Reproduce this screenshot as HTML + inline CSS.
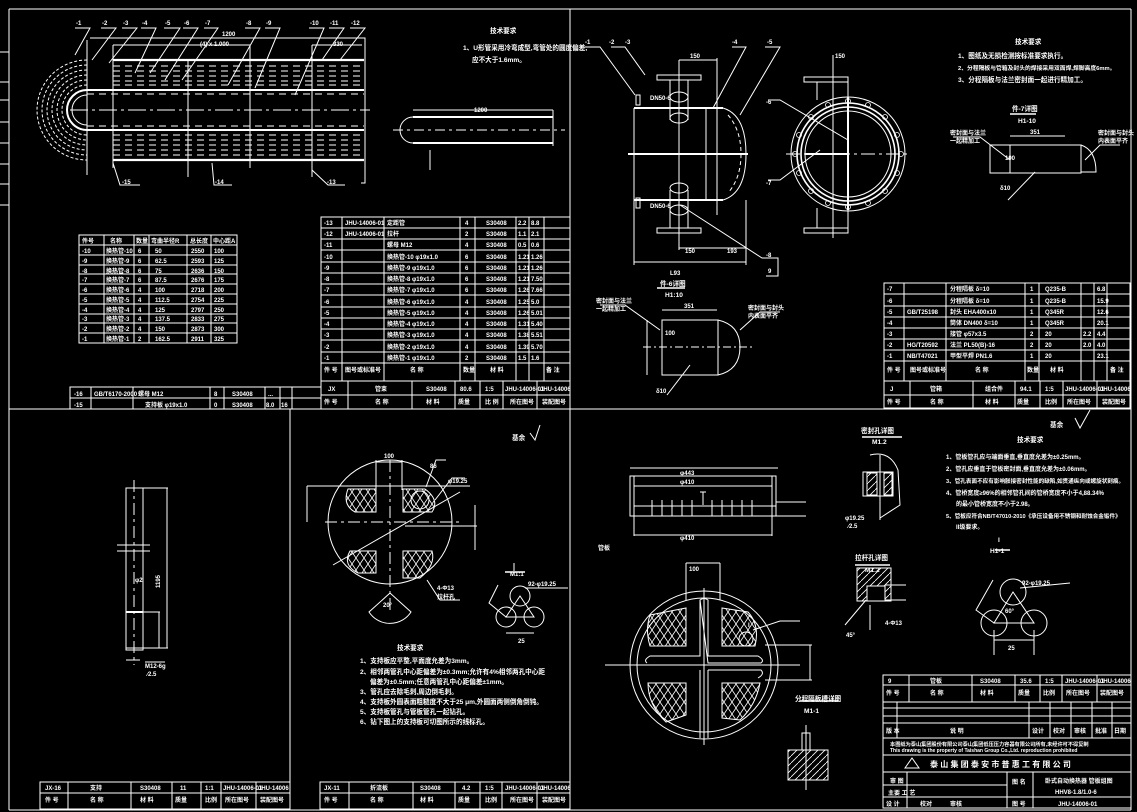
<!DOCTYPE html>
<html><head><meta charset="utf-8"><style>
html,body{margin:0;padding:0;background:#000;}
svg{display:block}
text{fill:#fff;font-family:"Liberation Sans","Noto Sans CJK SC",sans-serif;font-size:6px;font-weight:bold}
.t8{font-size:8px}
.t7{font-size:6.6px}
</style></head><body>
<svg width="1137" height="812" viewBox="0 0 1137 812" xmlns="http://www.w3.org/2000/svg">
<defs>
<pattern id="xh" width="8" height="12" patternUnits="userSpaceOnUse">
<path d="M0 0 L8 12 M8 0 L0 12" stroke="#fff" stroke-width="0.8"/>
</pattern>
<pattern id="dh" width="7" height="7" patternUnits="userSpaceOnUse">
<path d="M0 7 L7 0" stroke="#fff" stroke-width="0.8"/>
</pattern>
</defs>
<rect width="1137" height="812" fill="#000"/>
<g stroke="#fff" fill="none" stroke-width="1">
<line x1="9" y1="9" x2="1131" y2="9"/>
<line x1="9" y1="9" x2="9" y2="810"/>
<line x1="9" y1="810" x2="1131" y2="810"/>
<line x1="1131" y1="9" x2="1131" y2="810"/>
<line x1="570" y1="9" x2="570" y2="810"/>
<line x1="9" y1="409" x2="1131" y2="409"/>
<line x1="290" y1="409" x2="290" y2="810"/>
<line x1="0" y1="52" x2="9" y2="52"/><line x1="0" y1="82" x2="9" y2="82"/><line x1="0" y1="100" x2="9" y2="100"/><line x1="0" y1="122" x2="9" y2="122"/><line x1="0" y1="143" x2="9" y2="143"/><line x1="0" y1="164" x2="9" y2="164"/><line x1="0" y1="184" x2="9" y2="184"/><line x1="0" y1="205" x2="9" y2="205"/>

<g>
<path d="M87 60 A50 50 0 0 0 87 160" stroke-dasharray="3 2"/>
<path d="M87 65 A45 45 0 0 0 87 155" stroke-dasharray="3 2"/>
<path d="M87 70 A40 40 0 0 0 87 150" stroke-dasharray="3 2"/>
<path d="M87 75 A35 35 0 0 0 87 145" stroke-dasharray="3 2"/>
<path d="M87 80 A30 30 0 0 0 87 140" stroke-dasharray="3 2"/>
<path d="M87 85 A25 25 0 0 0 87 135" stroke-dasharray="3 2"/>
<path d="M87 90 A20 20 0 0 0 87 130" stroke-width="2"/>
<path d="M87 95 A15 15 0 0 0 87 125"/>
<line x1="113" y1="60" x2="364" y2="60" stroke-width="2.2"/>
<line x1="87" y1="90" x2="364" y2="90" stroke-width="2"/>
<line x1="87" y1="130" x2="364" y2="130" stroke-width="2"/>
<line x1="113" y1="160" x2="364" y2="160" stroke-width="2.2"/>
<g stroke-dasharray="7 5">
<line x1="113" y1="66" x2="364" y2="66"/><line x1="113" y1="71" x2="364" y2="71"/><line x1="113" y1="76" x2="364" y2="76"/><line x1="113" y1="81" x2="364" y2="81"/><line x1="113" y1="85" x2="364" y2="85"/>
<line x1="87" y1="94" x2="364" y2="94"/><line x1="87" y1="126" x2="364" y2="126"/>
<line x1="113" y1="135" x2="364" y2="135"/><line x1="113" y1="140" x2="364" y2="140"/><line x1="113" y1="145" x2="364" y2="145"/><line x1="113" y1="150" x2="364" y2="150"/><line x1="113" y1="155" x2="364" y2="155"/>
</g>
<line x1="70" y1="110" x2="370" y2="110" stroke-dasharray="18 4 3 4"/>
<line x1="87" y1="40" x2="87" y2="175"/>
<line x1="113" y1="45" x2="113" y2="168"/>
<line x1="188" y1="60" x2="188" y2="177"/>
<line x1="250" y1="45" x2="250" y2="168"/>
<line x1="312" y1="45" x2="312" y2="177"/>
<path d="M362 38 L365 38 L365 183 L361 183"/>
<line x1="90" y1="38" x2="365" y2="38"/>
<line x1="113" y1="45" x2="250" y2="45"/>
<line x1="312" y1="45" x2="362" y2="45"/>
<path d="M75 28 L90 28 L75 55"/><path d="M101 28 L116 28 L92 60"/><path d="M122 28 L137 28 L109 63"/><path d="M141 28 L156 28 L135 73"/><path d="M164 28 L180 28 L150 73"/><path d="M183 28 L198 28 L165 80"/><path d="M204 28 L218 28 L182 80"/><path d="M245 28 L260 28 L228 85"/><path d="M265 28 L280 28 L255 88"/><path d="M309 28 L324 28 L295 95"/><path d="M329 28 L344 28 L322 60"/><path d="M350 28 L365 28 L340 60"/>
<path d="M113 163 L120 185 L140 185"/><path d="M212 163 L214 185 L232 185"/><path d="M312 170 L328 185 L345 185"/>
<line x1="413" y1="117" x2="553" y2="117" stroke-width="2"/>
<line x1="413" y1="143" x2="553" y2="143" stroke-width="2"/>
<path d="M413 117 A13 13 0 0 0 413 143"/>
<line x1="393" y1="130" x2="565" y2="130" stroke-dasharray="10 4 3 4"/>
<line x1="413" y1="110" x2="553" y2="110"/>
<line x1="553" y1="110" x2="553" y2="146"/>
<line x1="430" y1="150" x2="430" y2="170"/>
</g>

<g>
<rect x="79" y="235" width="158" height="108"/>
<line x1="104" y1="235" x2="104" y2="343"/><line x1="134" y1="235" x2="134" y2="343"/><line x1="149" y1="235" x2="149" y2="343"/><line x1="187" y1="235" x2="187" y2="343"/><line x1="211" y1="235" x2="211" y2="343"/>
<line x1="79" y1="245" x2="237" y2="245"/><line x1="79" y1="255" x2="237" y2="255"/><line x1="79" y1="265" x2="237" y2="265"/><line x1="79" y1="274" x2="237" y2="274"/><line x1="79" y1="284" x2="237" y2="284"/><line x1="79" y1="294" x2="237" y2="294"/><line x1="79" y1="304" x2="237" y2="304"/><line x1="79" y1="314" x2="237" y2="314"/><line x1="79" y1="323" x2="237" y2="323"/><line x1="79" y1="333" x2="237" y2="333"/>
</g>

<g>
<rect x="321" y="217" width="249" height="192"/>
<line x1="342" y1="217" x2="342" y2="381"/><line x1="384" y1="217" x2="384" y2="381"/><line x1="460" y1="217" x2="460" y2="381"/><line x1="475" y1="217" x2="475" y2="381"/><line x1="516" y1="217" x2="516" y2="381"/><line x1="529" y1="217" x2="529" y2="381"/><line x1="544" y1="217" x2="544" y2="381"/>
<line x1="321" y1="228" x2="570" y2="228"/><line x1="321" y1="239" x2="570" y2="239"/><line x1="321" y1="250" x2="570" y2="250"/><line x1="321" y1="262" x2="570" y2="262"/><line x1="321" y1="273" x2="570" y2="273"/><line x1="321" y1="284" x2="570" y2="284"/><line x1="321" y1="295" x2="570" y2="295"/><line x1="321" y1="307" x2="570" y2="307"/><line x1="321" y1="318" x2="570" y2="318"/><line x1="321" y1="329" x2="570" y2="329"/><line x1="321" y1="340" x2="570" y2="340"/><line x1="321" y1="352" x2="570" y2="352"/><line x1="321" y1="363" x2="570" y2="363"/><line x1="321" y1="381" x2="570" y2="381"/><line x1="321" y1="395" x2="570" y2="395"/>
<line x1="348" y1="381" x2="348" y2="409"/><line x1="412" y1="381" x2="412" y2="409"/><line x1="455" y1="381" x2="455" y2="409"/><line x1="480" y1="381" x2="480" y2="409"/><line x1="503" y1="381" x2="503" y2="409"/><line x1="537" y1="381" x2="537" y2="409"/>
<rect x="70" y="387" width="251" height="22"/><line x1="70" y1="398" x2="321" y2="398"/>
<line x1="91" y1="387" x2="91" y2="409"/><line x1="133" y1="387" x2="133" y2="409"/><line x1="210" y1="387" x2="210" y2="409"/><line x1="224" y1="387" x2="224" y2="409"/><line x1="265" y1="387" x2="265" y2="409"/><line x1="280" y1="387" x2="280" y2="409"/><line x1="292" y1="387" x2="292" y2="409"/>
</g>

<g>
<line x1="634" y1="108" x2="723" y2="108" stroke-width="2"/>
<line x1="634" y1="200" x2="723" y2="200" stroke-width="2"/>
<line x1="634" y1="108" x2="634" y2="265"/>
<line x1="706" y1="108" x2="706" y2="200"/>
<line x1="717" y1="100" x2="717" y2="215"/>
<path d="M723 108 Q746 115 746 154 Q746 193 723 200"/>
<path d="M728 115 Q741 130 741 154 Q741 178 728 193" stroke-dasharray="4 3"/>
<line x1="628" y1="154" x2="748" y2="154" stroke-width="2"/>
<rect x="657" y="75" width="44" height="5"/>
<line x1="670" y1="80" x2="670" y2="120"/><line x1="688" y1="80" x2="688" y2="120"/>
<ellipse cx="679" cy="97" rx="9" ry="5"/><ellipse cx="679" cy="118" rx="9" ry="5"/>
<rect x="657" y="228" width="44" height="5"/>
<line x1="670" y1="190" x2="670" y2="228"/><line x1="688" y1="190" x2="688" y2="228"/>
<ellipse cx="679" cy="188" rx="9" ry="5"/><ellipse cx="679" cy="210" rx="9" ry="5"/>
<line x1="679" y1="60" x2="679" y2="250"/>
<line x1="746" y1="200" x2="746" y2="265"/>
<line x1="634" y1="262" x2="746" y2="262"/>
<line x1="679" y1="248" x2="746" y2="248"/>
<line x1="679" y1="60" x2="717" y2="60"/><line x1="717" y1="58" x2="717" y2="100"/>
<rect x="636" y="95" width="4" height="10"/><rect x="636" y="198" width="4" height="10"/>
<path d="M585 47 L600 47 L635 95"/><path d="M611 47 L625 47 L645 75"/><path d="M732 47 L746 47 L713 108"/><path d="M765 47 L780 47 L740 115"/><path d="M680 205 L762 258 L778 258 L778 276 L766 276"/>
<circle cx="848" cy="154" r="57"/>
<circle cx="848" cy="154" r="51" stroke-width="1.6"/>
<circle cx="848" cy="154" r="47" stroke-width="1.6"/>
<circle cx="848" cy="154" r="43"/>
<g stroke-width="0.8">
<circle cx="848" cy="101" r="2.5"/><circle cx="848" cy="207" r="2.5"/><circle cx="795" cy="154" r="2.5"/><circle cx="901" cy="154" r="2.5"/>
<circle cx="868" cy="105" r="2.5"/><circle cx="828" cy="105" r="2.5"/><circle cx="868" cy="203" r="2.5"/><circle cx="828" cy="203" r="2.5"/>
<circle cx="885" cy="117" r="2.5"/><circle cx="811" cy="117" r="2.5"/><circle cx="885" cy="191" r="2.5"/><circle cx="811" cy="191" r="2.5"/>
<circle cx="897" cy="135" r="2.5"/><circle cx="799" cy="135" r="2.5"/><circle cx="897" cy="173" r="2.5"/><circle cx="799" cy="173" r="2.5"/>
</g>
<line x1="786" y1="154" x2="910" y2="154" stroke-dasharray="14 4 3 4"/>
<line x1="805" y1="154" x2="848" y2="154" stroke-width="2"/>
<line x1="848" y1="97" x2="848" y2="210" stroke-width="2"/>
<rect x="804" y="77" width="44" height="5"/><rect x="804" y="228" width="44" height="5"/>
<line x1="817" y1="82" x2="817" y2="100"/><line x1="833" y1="55" x2="833" y2="238"/><line x1="848" y1="82" x2="848" y2="100"/>
<line x1="817" y1="208" x2="817" y2="228"/><line x1="848" y1="208" x2="848" y2="228"/>
<path d="M768 100 L780 100 L848 140"/><path d="M768 180 L780 180 L820 150"/>
<line x1="1010" y1="114" x2="1036" y2="114" stroke-width="1.5"/>
<rect x="990" y="145" width="91" height="28"/>
<path d="M1081 145 Q1096 150 1096 172 L1081 172"/>
<line x1="1010" y1="145" x2="1010" y2="173"/>
<line x1="1010" y1="136" x2="1065" y2="136"/>
<path d="M953 137 L980 137 L1010 160"/><path d="M1120 145 L1100 145 L1085 160"/>
<line x1="1035" y1="172" x2="1008" y2="200"/>
<line x1="657" y1="288" x2="685" y2="288" stroke-width="1.5"/>
<rect x="662" y="320" width="56" height="55"/>
<path d="M718 320 Q740 325 740 347 Q740 370 718 375"/>
<line x1="643" y1="347" x2="755" y2="347" stroke-dasharray="8 3 2 3"/>
<line x1="662" y1="310" x2="717" y2="310"/>
<line x1="647" y1="320" x2="647" y2="375"/>
<path d="M600 305 L625 305 L660 330"/><path d="M780 312 L760 312 L740 330"/>
<line x1="690" y1="365" x2="667" y2="395"/>
<rect x="884" y="283" width="246" height="125"/>
<line x1="904" y1="283" x2="904" y2="381"/><line x1="946" y1="283" x2="946" y2="381"/><line x1="1025" y1="283" x2="1025" y2="381"/><line x1="1039" y1="283" x2="1039" y2="381"/><line x1="1081" y1="283" x2="1081" y2="381"/><line x1="1094" y1="283" x2="1094" y2="381"/><line x1="1107" y1="283" x2="1107" y2="381"/>
<line x1="884" y1="294" x2="1130" y2="294"/><line x1="884" y1="306" x2="1130" y2="306"/><line x1="884" y1="317" x2="1130" y2="317"/><line x1="884" y1="328" x2="1130" y2="328"/><line x1="884" y1="339" x2="1130" y2="339"/><line x1="884" y1="350" x2="1130" y2="350"/><line x1="884" y1="361" x2="1130" y2="361"/><line x1="884" y1="381" x2="1130" y2="381"/><line x1="884" y1="395" x2="1130" y2="395"/>
<line x1="910" y1="381" x2="910" y2="408"/><line x1="973" y1="381" x2="973" y2="408"/><line x1="1015" y1="381" x2="1015" y2="408"/><line x1="1040" y1="381" x2="1040" y2="408"/><line x1="1063" y1="381" x2="1063" y2="408"/><line x1="1097" y1="381" x2="1097" y2="408"/>
</g>

<g>
<rect x="126" y="488" width="17" height="162"/>
<line x1="134" y1="480" x2="134" y2="665" stroke-dasharray="12 4 3 4"/>
<line x1="117" y1="545" x2="150" y2="545"/><line x1="117" y1="551" x2="150" y2="551"/>
<line x1="143" y1="488" x2="168" y2="488"/><line x1="167" y1="488" x2="167" y2="648"/>
<line x1="143" y1="612" x2="160" y2="612"/><line x1="159" y1="612" x2="159" y2="648"/>
<line x1="126" y1="612" x2="143" y2="612" stroke-width="2"/>
<line x1="126" y1="648" x2="168" y2="648"/>
<line x1="126" y1="660" x2="140" y2="660"/>
<line x1="145" y1="662" x2="165" y2="662"/>
<circle cx="390" cy="522" r="62"/>
<line x1="307" y1="486" x2="470" y2="486"/><line x1="307" y1="486" x2="307" y2="522"/>
<line x1="325" y1="522" x2="460" y2="522" stroke-dasharray="12 4 3 4"/>
<line x1="390" y1="460" x2="390" y2="610" stroke-dasharray="12 4 3 4"/>
<line x1="405" y1="526" x2="477" y2="526"/><line x1="475" y1="505" x2="475" y2="550"/>
<line x1="376" y1="460" x2="376" y2="490"/><line x1="402" y1="460" x2="402" y2="490"/>
<line x1="376" y1="462" x2="402" y2="462"/>
<path d="M350 489 L376 489 L376 512 L355 512 Q342 505 348 489Z" fill="url(#xh)"/>
<path d="M403 489 L425 489 Q440 500 432 512 L403 512Z" fill="url(#xh)"/>
<path d="M350 551 L376 551 L376 573 L358 573 Q342 565 350 551Z" fill="url(#xh)"/>
<path d="M403 551 L432 551 Q436 565 420 578 L403 578Z" fill="url(#xh)"/>
<circle cx="420" cy="500" r="9"/>
<line x1="333" y1="565" x2="460" y2="492"/>
<path d="M426 487 L436 460 L446 460"/><path d="M435 500 L452 478 L465 478"/>
<path d="M390 593 L369 612 A25 25 0 0 0 411 612Z"/>
<path d="M427 580 L440 600 L460 600"/>
<line x1="505" y1="572" x2="525" y2="572" stroke-width="1.5"/><line x1="514" y1="563" x2="514" y2="571"/>
<circle cx="520" cy="596" r="10"/><circle cx="506" cy="617" r="10"/><circle cx="534" cy="617" r="10"/>
<path d="M520 596 L506 617 L534 617Z"/>
<line x1="506" y1="633" x2="534" y2="633"/>
<line x1="525" y1="588" x2="568" y2="588"/>
<path d="M498 585 L489 603 L506 617"/>
<path d="M530 433 L535 440 L540 425"/>
<rect x="40" y="782" width="250" height="27"/><line x1="40" y1="793" x2="290" y2="793"/>
<line x1="68" y1="782" x2="68" y2="809"/><line x1="131" y1="782" x2="131" y2="809"/><line x1="172" y1="782" x2="172" y2="809"/><line x1="201" y1="782" x2="201" y2="809"/><line x1="221" y1="782" x2="221" y2="809"/><line x1="256" y1="782" x2="256" y2="809"/>
<rect x="320" y="782" width="250" height="27"/><line x1="320" y1="793" x2="570" y2="793"/>
<line x1="349" y1="782" x2="349" y2="809"/><line x1="413" y1="782" x2="413" y2="809"/><line x1="455" y1="782" x2="455" y2="809"/><line x1="480" y1="782" x2="480" y2="809"/><line x1="502" y1="782" x2="502" y2="809"/><line x1="537" y1="782" x2="537" y2="809"/>
</g>

<g>
<rect x="630" y="476" width="146" height="40"/>
<line x1="634" y1="486" x2="772" y2="486"/><line x1="634" y1="506" x2="776" y2="506"/>
<line x1="634" y1="476" x2="634" y2="536"/><line x1="772" y1="476" x2="772" y2="536"/>
<line x1="630" y1="468" x2="778" y2="468"/>
<line x1="634" y1="535" x2="772" y2="535"/>
<g><line x1="652" y1="500" x2="652" y2="516"/><line x1="662" y1="500" x2="662" y2="516"/><line x1="672" y1="500" x2="672" y2="516"/><line x1="682" y1="500" x2="682" y2="516"/><line x1="692" y1="500" x2="692" y2="516"/><line x1="712" y1="500" x2="712" y2="516"/><line x1="722" y1="500" x2="722" y2="516"/><line x1="732" y1="500" x2="732" y2="516"/><line x1="742" y1="500" x2="742" y2="516"/><line x1="752" y1="500" x2="752" y2="516"/></g>
<line x1="700" y1="492" x2="706" y2="492"/><line x1="703" y1="492" x2="703" y2="505"/>
<line x1="776" y1="502" x2="806" y2="502"/><line x1="776" y1="516" x2="806" y2="516"/>
<circle cx="704" cy="665" r="74"/>
<circle cx="704" cy="665" r="67"/>
<line x1="686" y1="563" x2="686" y2="600"/><line x1="720" y1="563" x2="720" y2="600"/>
<line x1="686" y1="563" x2="720" y2="563"/>
<path d="M700 600 Q704 597 708 600 L708 656 L758 656 Q765 660 761 663 L708 663 Z" />
<path d="M700 600 L700 656 L650 656 Q643 660 647 663" />
<path d="M700 670 L700 738 M708 670 L708 738 M708 670 L761 670 Q765 674 758 678" />
<line x1="605" y1="665" x2="800" y2="665"/>
<line x1="704" y1="588" x2="704" y2="745"/>
<line x1="765" y1="645" x2="812" y2="645"/><line x1="765" y1="680" x2="812" y2="680"/><line x1="810" y1="645" x2="810" y2="680"/>
<path d="M650 615 L686 608 L686 646 L650 646 Q645 630 650 615Z" fill="url(#xh)"/>
<path d="M722 608 L748 612 Q760 625 755 646 L722 646Z" fill="url(#xh)"/>
<path d="M648 683 L686 683 L686 715 L666 722 Q648 705 648 683Z" fill="url(#xh)"/>
<path d="M722 683 L760 683 Q756 705 740 720 L722 718Z" fill="url(#xh)"/>
<circle cx="746" cy="639" r="7"/>
<path d="M753 630 L780 621 L800 621"/>
<line x1="862" y1="437" x2="902" y2="437" stroke-width="1.5"/>
<rect x="863" y="472" width="30" height="24"/>
<rect x="867" y="473" width="10" height="22" fill="url(#dh)"/><rect x="884" y="473" width="8" height="22" fill="url(#dh)"/>
<line x1="880" y1="455" x2="880" y2="520"/>
<path d="M870 455 Q890 450 898 470 L900 505 L880 518"/>
<line x1="855" y1="565" x2="890" y2="565" stroke-width="1.5"/>
<rect x="857" y="568" width="34" height="33" fill="url(#dh)"/>
<rect x="867" y="586" width="18" height="15" fill="#000"/>
<rect x="867" y="586" width="18" height="15"/>
<line x1="885" y1="585" x2="906" y2="585"/><line x1="885" y1="600" x2="906" y2="600"/>
<path d="M866 600 L845 625 M870 605 L870 630"/>
<line x1="995" y1="550" x2="1010" y2="550" stroke-width="1.5"/>
<circle cx="1013" cy="592" r="13"/><circle cx="994" cy="623" r="13"/><circle cx="1034" cy="623" r="13"/>
<path d="M1013 592 L994 623 L1034 623Z"/>
<line x1="994" y1="640" x2="1034" y2="640"/><line x1="994" y1="630" x2="994" y2="655"/><line x1="1034" y1="630" x2="1034" y2="655"/>
<line x1="1020" y1="588" x2="1070" y2="583"/>
<path d="M993 580 L976 610 L994 623"/>
<line x1="800" y1="701" x2="838" y2="701" stroke-width="1.5"/>
<rect x="788" y="750" width="40" height="30" fill="url(#dh)"/>
<rect x="802" y="733" width="8" height="17" fill="#000"/>
<rect x="802" y="733" width="8" height="17"/>
<line x1="806" y1="725" x2="806" y2="790"/>
<path d="M1075 418 L1080 428 L1090 410"/>
<rect x="883" y="675" width="248" height="133"/>
<line x1="883" y1="685" x2="1131" y2="685"/><line x1="883" y1="702" x2="1131" y2="702"/><line x1="883" y1="708" x2="1131" y2="708"/><line x1="883" y1="716" x2="1131" y2="716"/><line x1="883" y1="723" x2="1131" y2="723"/><line x1="883" y1="738" x2="1131" y2="738"/><line x1="883" y1="755" x2="1131" y2="755"/><line x1="883" y1="772" x2="1131" y2="772"/><line x1="883" y1="797" x2="1131" y2="797"/>
<line x1="909" y1="675" x2="909" y2="702"/><line x1="972" y1="675" x2="972" y2="702"/><line x1="1015" y1="675" x2="1015" y2="702"/><line x1="1040" y1="675" x2="1040" y2="702"/><line x1="1062" y1="675" x2="1062" y2="702"/><line x1="1097" y1="675" x2="1097" y2="702"/>
<line x1="897" y1="702" x2="897" y2="738"/><line x1="1029" y1="702" x2="1029" y2="738"/><line x1="1050" y1="702" x2="1050" y2="738"/><line x1="1071" y1="702" x2="1071" y2="738"/><line x1="1092" y1="702" x2="1092" y2="738"/><line x1="1112" y1="702" x2="1112" y2="738"/>
<line x1="907" y1="772" x2="907" y2="808"/><line x1="1007" y1="772" x2="1007" y2="808"/><line x1="1033" y1="772" x2="1033" y2="808"/>
<line x1="883" y1="785" x2="1007" y2="785"/>
<path d="M905 768 L912 758 L919 768Z"/>
</g>
</g>

<g>
<text x="76" y="25">-1</text><text x="102" y="25">-2</text><text x="123" y="25">-3</text><text x="142" y="25">-4</text><text x="165" y="25">-5</text><text x="184" y="25">-6</text><text x="205" y="25">-7</text><text x="246" y="25">-8</text><text x="266" y="25">-9</text><text x="310" y="25">-10</text><text x="330" y="25">-11</text><text x="351" y="25">-12</text>
<text x="222" y="36">1200</text><text x="200" y="46">(4) x 1.000</text><text x="333" y="46">330</text>
<text x="122" y="184">-15</text><text x="215" y="184">-14</text><text x="327" y="184">-13</text>
<text x="474" y="112">1200</text>
<text x="490" y="33" class="t7">技术要求</text>
<text x="463" y="50" class="t7">1、U形管采用冷弯成型,弯管处的圆度偏差,</text>
<text x="472" y="62" class="t7">应不大于1.6mm。</text>
<text x="82" y="243">件号</text><text x="110" y="243">名称</text><text x="136" y="243">数量</text><text x="151" y="243">弯曲半径R</text><text x="190" y="243">总长度</text><text x="213" y="243">中心距A</text>
<text x="82" y="253">-10</text><text x="106" y="253">换热管-10</text><text x="138" y="253">6</text><text x="155" y="253">50</text><text x="191" y="253">2550</text><text x="214" y="253">100</text>
<text x="82" y="263">-9</text><text x="106" y="263">换热管-9</text><text x="138" y="263">6</text><text x="155" y="263">62.5</text><text x="191" y="263">2593</text><text x="214" y="263">125</text>
<text x="82" y="273">-8</text><text x="106" y="273">换热管-8</text><text x="138" y="273">6</text><text x="155" y="273">75</text><text x="191" y="273">2636</text><text x="214" y="273">150</text>
<text x="82" y="282">-7</text><text x="106" y="282">换热管-7</text><text x="138" y="282">6</text><text x="155" y="282">87.5</text><text x="191" y="282">2676</text><text x="214" y="282">175</text>
<text x="82" y="292">-6</text><text x="106" y="292">换热管-6</text><text x="138" y="292">4</text><text x="155" y="292">100</text><text x="191" y="292">2718</text><text x="214" y="292">200</text>
<text x="82" y="302">-5</text><text x="106" y="302">换热管-5</text><text x="138" y="302">4</text><text x="155" y="302">112.5</text><text x="191" y="302">2754</text><text x="214" y="302">225</text>
<text x="82" y="312">-4</text><text x="106" y="312">换热管-4</text><text x="138" y="312">4</text><text x="155" y="312">125</text><text x="191" y="312">2797</text><text x="214" y="312">250</text>
<text x="82" y="321">-3</text><text x="106" y="321">换热管-3</text><text x="138" y="321">4</text><text x="155" y="321">137.5</text><text x="191" y="321">2833</text><text x="214" y="321">275</text>
<text x="82" y="331">-2</text><text x="106" y="331">换热管-2</text><text x="138" y="331">4</text><text x="155" y="331">150</text><text x="191" y="331">2873</text><text x="214" y="331">300</text>
<text x="82" y="341">-1</text><text x="106" y="341">换热管-1</text><text x="138" y="341">2</text><text x="155" y="341">162.5</text><text x="191" y="341">2911</text><text x="214" y="341">325</text>
<g>
<text x="324" y="225">-13</text><text x="345" y="225">JHU-14006-01</text><text x="387" y="225">定距管</text><text x="465" y="225">4</text><text x="486" y="225">S30408</text><text x="518" y="225">2.2</text><text x="531" y="225">8.8</text>
<text x="324" y="236">-12</text><text x="345" y="236">JHU-14006-01</text><text x="387" y="236">拉杆</text><text x="465" y="236">2</text><text x="486" y="236">S30408</text><text x="518" y="236">1.1</text><text x="531" y="236">2.1</text>
<text x="324" y="247">-11</text><text x="387" y="247">螺母 M12</text><text x="465" y="247">4</text><text x="486" y="247">S30408</text><text x="518" y="247">0.5</text><text x="531" y="247">0.6</text>
<text x="324" y="259">-10</text><text x="387" y="259">换热管-10 φ19x1.0</text><text x="465" y="259">6</text><text x="486" y="259">S30408</text><text x="518" y="259">1.21</text><text x="531" y="259">1.26</text>
<text x="324" y="270">-9</text><text x="387" y="270">换热管-9 φ19x1.0</text><text x="465" y="270">6</text><text x="486" y="270">S30408</text><text x="518" y="270">1.21</text><text x="531" y="270">1.26</text>
<text x="324" y="281">-8</text><text x="387" y="281">换热管-8 φ19x1.0</text><text x="465" y="281">6</text><text x="486" y="281">S30408</text><text x="518" y="281">1.21</text><text x="531" y="281">7.50</text>
<text x="324" y="292">-7</text><text x="387" y="292">换热管-7 φ19x1.0</text><text x="465" y="292">6</text><text x="486" y="292">S30408</text><text x="518" y="292">1.26</text><text x="531" y="292">7.66</text>
<text x="324" y="304">-6</text><text x="387" y="304">换热管-6 φ19x1.0</text><text x="465" y="304">4</text><text x="486" y="304">S30408</text><text x="518" y="304">1.25</text><text x="531" y="304">5.0</text>
<text x="324" y="315">-5</text><text x="387" y="315">换热管-5 φ19x1.0</text><text x="465" y="315">4</text><text x="486" y="315">S30408</text><text x="518" y="315">1.26</text><text x="531" y="315">5.01</text>
<text x="324" y="326">-4</text><text x="387" y="326">换热管-4 φ19x1.0</text><text x="465" y="326">4</text><text x="486" y="326">S30408</text><text x="518" y="326">1.31</text><text x="531" y="326">5.40</text>
<text x="324" y="337">-3</text><text x="387" y="337">换热管-3 φ19x1.0</text><text x="465" y="337">4</text><text x="486" y="337">S30408</text><text x="518" y="337">1.38</text><text x="531" y="337">5.51</text>
<text x="324" y="349">-2</text><text x="387" y="349">换热管-2 φ19x1.0</text><text x="465" y="349">4</text><text x="486" y="349">S30408</text><text x="518" y="349">1.39</text><text x="531" y="349">5.70</text>
<text x="324" y="360">-1</text><text x="387" y="360">换热管-1 φ19x1.0</text><text x="465" y="360">2</text><text x="486" y="360">S30408</text><text x="518" y="360">1.5</text><text x="531" y="360">1.6</text>
<text x="324" y="372">件 号</text><text x="345" y="372">图号或标准号</text><text x="410" y="372">名 称</text><text x="463" y="372">数量</text><text x="490" y="372">材 料</text><text x="546" y="372">备 注</text>
<text x="328" y="391">JX</text><text x="375" y="391">管束</text><text x="426" y="391">S30408</text><text x="460" y="391">80.6</text><text x="485" y="391">1:5</text><text x="505" y="391">JHU-14006-01</text><text x="540" y="391">JHU-14006</text>
<text x="324" y="404">件 号</text><text x="375" y="404">名 称</text><text x="426" y="404">材 料</text><text x="458" y="404">质量</text><text x="485" y="404">比 例</text><text x="510" y="404">所在图号</text><text x="542" y="404">装配图号</text>
<text x="74" y="396">-16</text><text x="94" y="396">GB/T6170-2000</text><text x="138" y="396">螺母 M12</text><text x="214" y="396">8</text><text x="232" y="396">S30408</text><text x="268" y="396">...</text>
<text x="74" y="407">-15</text><text x="145" y="407">支持板 φ19x1.0</text><text x="214" y="407">0</text><text x="232" y="407">S30408</text><text x="266" y="407">8.0</text><text x="281" y="407">16</text>
</g>
<text x="585" y="44">-1</text><text x="609" y="44">-2</text><text x="625" y="44">-3</text><text x="732" y="44">-4</text><text x="767" y="44">-5</text>
<text x="766" y="104">-6</text><text x="766" y="185">-7</text><text x="766" y="257">-8</text><text x="768" y="273">9</text>
<text x="690" y="58">150</text><text x="835" y="58">150</text><text x="650" y="100">DN50-6</text><text x="650" y="208">DN50-6</text>
<text x="670" y="275">L93</text><text x="685" y="253">150</text><text x="727" y="253">193</text>
<text x="1015" y="44" class="t7">技术要求</text>
<text x="958" y="58" class="t7">1、图纸及无损检测按标准要求执行。</text>
<text x="958" y="70" style="font-size:5.8px">2、分程隔板与管箱及封头的焊接采用双面焊,焊脚高度6mm。</text>
<text x="958" y="82" class="t7">3、分程隔板与法兰密封面一起进行精加工。</text>
<text x="1012" y="111" class="t7">件-7详图</text><text x="1018" y="123" class="t7">H1-10</text>
<text x="950" y="135">密封面与法兰</text><text x="950" y="143">一起精加工</text><text x="1098" y="135">密封面与封头</text><text x="1098" y="143">内表面平齐</text>
<text x="1030" y="134">351</text><text x="1005" y="160">100</text><text x="1000" y="190">δ10</text>
<text x="660" y="286" class="t7">件-6详图</text><text x="665" y="297" class="t7">H1:10</text>
<text x="596" y="303">密封面与法兰</text><text x="596" y="311">一起精加工</text><text x="748" y="310">密封面与封头</text><text x="748" y="318">内表面平齐</text>
<text x="684" y="308">351</text><text x="656" y="393">δ10</text><text x="665" y="335">100</text>
<g>
<text x="887" y="291">-7</text><text x="950" y="291">分程隔板 δ=10</text><text x="1030" y="291">1</text><text x="1045" y="291">Q235-B</text><text x="1097" y="291">6.8</text>
<text x="887" y="303">-6</text><text x="950" y="303">分程隔板 δ=10</text><text x="1030" y="303">1</text><text x="1045" y="303">Q235-B</text><text x="1097" y="303">15.9</text>
<text x="887" y="314">-5</text><text x="907" y="314">GB/T25198</text><text x="950" y="314">封头 EHA400x10</text><text x="1030" y="314">1</text><text x="1045" y="314">Q345R</text><text x="1097" y="314">12.6</text>
<text x="887" y="325">-4</text><text x="950" y="325">筒体 DN400 δ=10</text><text x="1030" y="325">1</text><text x="1045" y="325">Q345R</text><text x="1097" y="325">20.1</text>
<text x="887" y="336">-3</text><text x="950" y="336">接管 φ57x3.5</text><text x="1030" y="336">2</text><text x="1045" y="336">20</text><text x="1083" y="336">2.2</text><text x="1097" y="336">4.4</text>
<text x="887" y="347">-2</text><text x="907" y="347">HG/T20592</text><text x="950" y="347">法兰 PL50(B)-16</text><text x="1030" y="347">2</text><text x="1045" y="347">20</text><text x="1083" y="347">2.0</text><text x="1097" y="347">4.0</text>
<text x="887" y="358">-1</text><text x="907" y="358">NB/T47021</text><text x="950" y="358">甲型平焊 PN1.6</text><text x="1030" y="358">1</text><text x="1045" y="358">20</text><text x="1097" y="358">23.1</text>
<text x="887" y="372">件 号</text><text x="910" y="372">图号或标准号</text><text x="975" y="372">名 称</text><text x="1027" y="372">数量</text><text x="1050" y="372">材 料</text><text x="1110" y="372">备 注</text>
<text x="890" y="391">J</text><text x="930" y="391">管箱</text><text x="985" y="391">组合件</text><text x="1020" y="391">94.1</text><text x="1045" y="391">1:5</text><text x="1065" y="391">JHU-14006-01</text><text x="1100" y="391">JHU-14006</text>
<text x="887" y="404">件 号</text><text x="930" y="404">名 称</text><text x="985" y="404">材 料</text><text x="1017" y="404">质量</text><text x="1045" y="404">比例</text><text x="1067" y="404">所在图号</text><text x="1102" y="404">装配图号</text>
</g>
<text x="152" y="580" transform="rotate(-90 160 580)">1195</text>
<text x="135" y="582">φ2</text><text x="145" y="668">M12-6g</text><text x="147" y="676">∕2.5</text>
<text x="512" y="440" class="t7">基余</text>
<text x="384" y="458">100</text><text x="430" y="468">86</text><text x="448" y="483">φ19.25</text>
<text x="437" y="590">4-Φ13</text><text x="437" y="599">拉杆孔</text><text x="383" y="607">20°</text>
<text x="510" y="576">M1:1</text><text x="528" y="586">92-φ19.25</text><text x="518" y="643">25</text>
<text x="397" y="650" class="t7">技术要求</text>
<text x="360" y="663" class="t7">1、支持板应平整,平面度允差为3mm。</text>
<text x="360" y="674" class="t7">2、相邻两管孔中心距偏差为±0.3mm;允许有4%相邻两孔中心距</text>
<text x="370" y="684" class="t7">偏差为±0.5mm;任意两管孔中心距偏差±1mm。</text>
<text x="360" y="694" class="t7">3、管孔应去除毛刺,周边倒毛刺。</text>
<text x="360" y="704" class="t7">4、支持板外圆表面粗糙度不大于25 μm,外圆面两侧倒角倒钝。</text>
<text x="360" y="714" class="t7">5、支持板管孔与管板管孔一起钻孔。</text>
<text x="360" y="724" class="t7">6、钻下图上的支持板可切图所示的线标孔。</text>
<text x="45" y="790">JX-16</text><text x="90" y="790">支持</text><text x="140" y="790">S30408</text><text x="180" y="790">11</text><text x="205" y="790">1:1</text><text x="223" y="790">JHU-14006-01</text><text x="258" y="790">JHU-14006</text>
<text x="45" y="802">件 号</text><text x="90" y="802">名 称</text><text x="140" y="802">材 料</text><text x="175" y="802">质量</text><text x="205" y="802">比例</text><text x="225" y="802">所在图号</text><text x="260" y="802">装配图号</text>
<text x="324" y="790">JX-11</text><text x="370" y="790">折流板</text><text x="420" y="790">S30408</text><text x="462" y="790">4.2</text><text x="485" y="790">1:5</text><text x="505" y="790">JHU-14006-01</text><text x="540" y="790">JHU-14006</text>
<text x="324" y="802">件 号</text><text x="370" y="802">名 称</text><text x="420" y="802">材 料</text><text x="458" y="802">质量</text><text x="485" y="802">比例</text><text x="510" y="802">所在图号</text><text x="542" y="802">装配图号</text>
<text x="680" y="475">φ443</text><text x="680" y="484">φ410</text><text x="680" y="540">φ410</text><text x="598" y="550">管板</text>
<text x="689" y="571">100</text><text x="748" y="627">I</text>
<text x="861" y="433" class="t7">密封孔详图</text><text x="872" y="444" class="t7">M1.2</text>
<text x="845" y="520">φ19.25</text><text x="848" y="528">∕2.5</text>
<text x="855" y="560" class="t7">拉杆孔详图</text><text x="865" y="572" class="t7">M1.2</text>
<text x="846" y="637">45°</text><text x="885" y="625">4-Φ13</text>
<text x="1050" y="427" class="t7">基余</text>
<text x="1017" y="442" class="t7">技术要求</text>
<text x="946" y="459" style="font-size:6px">1、管板管孔应与端面垂直,垂直度允差为±0.25mm。</text>
<text x="946" y="471" style="font-size:6px">2、管孔应垂直于管板密封面,垂直度允差为±0.06mm。</text>
<text x="946" y="483" style="font-size:5.6px">3、管孔表面不应有影响胀接密封性能的缺陷,如贯通纵向或螺旋状刻痕。</text>
<text x="946" y="495" style="font-size:6px">4、管桥宽度≥96%的相邻管孔间的管桥宽度不小于4,88.34%</text>
<text x="956" y="506" style="font-size:6px">的最小管桥宽度不小于2.98。</text>
<text x="946" y="518" style="font-size:5.6px">5、管板应符合NB/T47010-2010《承压设备用不锈钢和耐蚀合金锻件》</text>
<text x="956" y="529" style="font-size:6px">II级要求。</text>
<text x="998" y="542" class="t7">I</text><text x="990" y="553" class="t7">H1-1</text>
<text x="1022" y="585">92-φ19.25</text><text x="1008" y="650">25</text><text x="1005" y="613">60°</text>
<text x="795" y="701" class="t7">分程隔板槽详图</text><text x="804" y="713" class="t7">M1-1</text>
<text x="888" y="683">9</text><text x="930" y="683">管板</text><text x="980" y="683">S30408</text><text x="1020" y="683">35.6</text><text x="1045" y="683">1:5</text><text x="1065" y="683">JHU-14006-01</text><text x="1100" y="683">JHU-14006</text>
<text x="886" y="695">件 号</text><text x="930" y="695">名 称</text><text x="980" y="695">材 料</text><text x="1018" y="695">质量</text><text x="1043" y="695">比例</text><text x="1066" y="695">所在图号</text><text x="1100" y="695">装配图号</text>
<text x="886" y="733">版 本</text><text x="950" y="733">说 明</text><text x="1032" y="733">设计</text><text x="1053" y="733">校对</text><text x="1074" y="733">审核</text><text x="1095" y="733">批准</text><text x="1114" y="733">日期</text>
<text x="890" y="746" style="font-size:5.2px">本图纸为泰山集团股份有限公司泰山集团低压压力容器有限公司所有,未经许可不得复制</text>
<text x="890" y="752" style="font-size:5px">This drawing is the property of Taishan Group Co.,Ltd. reproduction prohibited</text>
<text x="930" y="767" class="t8">泰 山 集 团 泰 安 市 普 惠 工 有 限 公 司</text>
<text x="890" y="783">审 图</text><text x="1012" y="784">图 名</text>
<text x="1045" y="783">卧式自动换热器 管板组图</text><text x="1055" y="794">HHV8-1.8/1.0-6</text>
<text x="888" y="795">主要 工 艺</text>
<text x="886" y="806">设 计</text><text x="920" y="806">校对</text><text x="950" y="806">审核</text><text x="1012" y="806">图 号</text><text x="1058" y="806">JHU-14006-01</text>
</g>
</svg>
</body></html>
